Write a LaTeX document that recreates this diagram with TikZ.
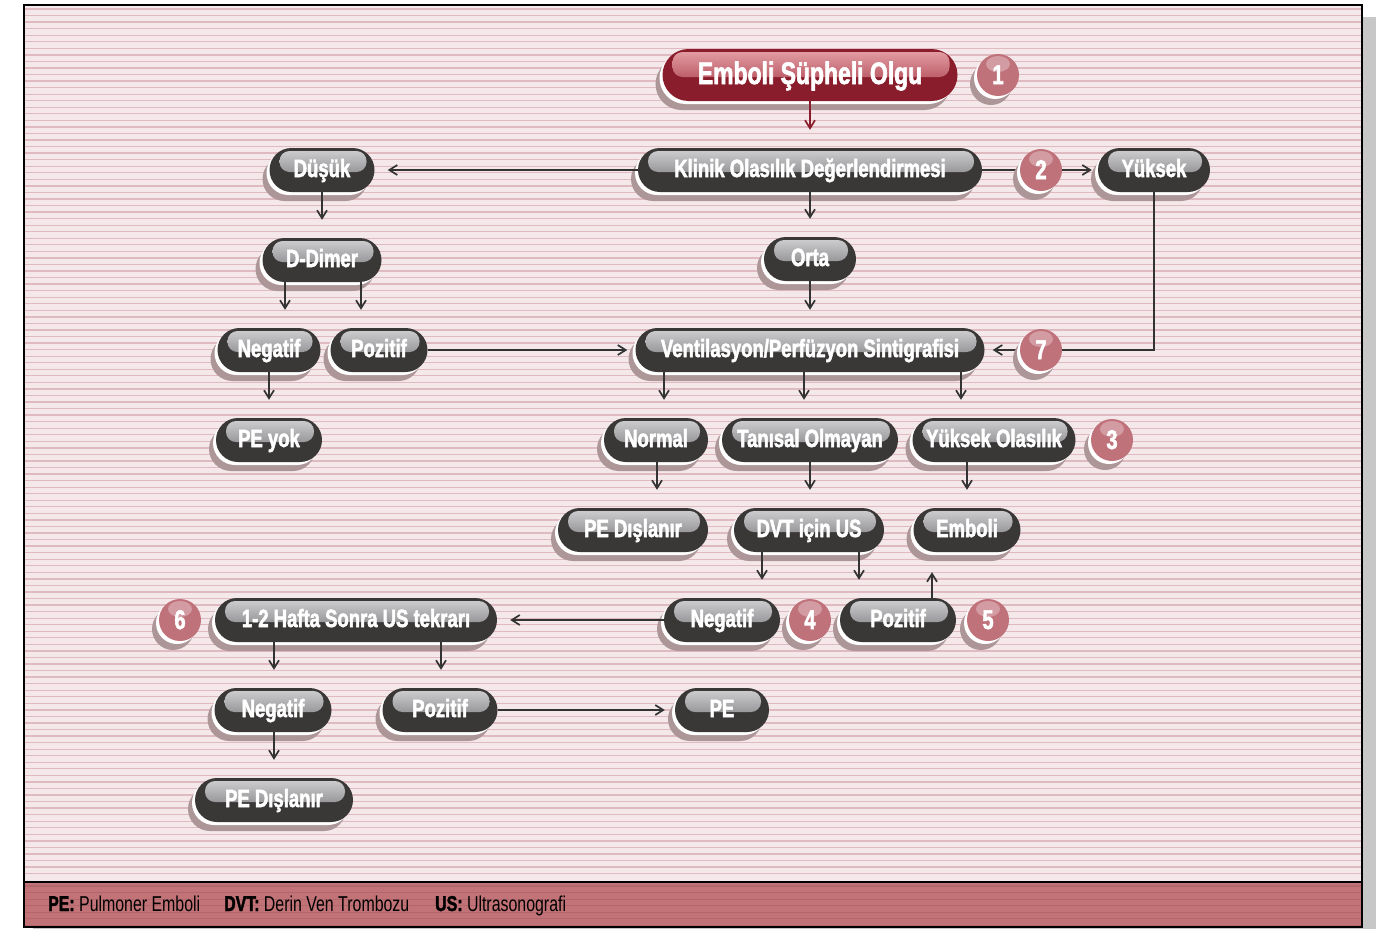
\documentclass[tikz,border=0pt]{standalone}
\usepackage{fontspec}
\setmainfont{Liberation Sans}[FakeStretch=0.74, BoldFeatures={FakeBold=2}]
\usetikzlibrary{arrows.meta,shadows,calc}
\definecolor{bgc}{HTML}{F4E8EB}
\definecolor{stripec}{HTML}{E0BAC1}
\definecolor{footc}{HTML}{C27377}
\definecolor{footstripe}{HTML}{B4676B}
\definecolor{pillc}{HTML}{3A3737}
\definecolor{glT}{HTML}{D2D2D4}
\definecolor{glB}{HTML}{68686A}
\definecolor{redc}{HTML}{8A1D2B}
\definecolor{rglT}{HTML}{E6A2A8}
\definecolor{rglB}{HTML}{9A2636}
\definecolor{shadc}{HTML}{AD9698}
\definecolor{circc}{HTML}{C0727B}
\definecolor{arrc}{HTML}{333333}
\newcommand\pillfont{\fontsize{25bp}{26bp}\selectfont\bfseries}
\newcommand\toppillfont{\fontsize{31bp}{32bp}\selectfont\bfseries}
\newcommand\numfont{\fontsize{27bp}{28bp}\selectfont\bfseries}
\newcommand\legfont{\fontsize{21.5bp}{23bp}\selectfont}
\begin{document}
\begin{tikzpicture}[x=1bp,y=-1bp,
  gloss/.style 2 args={path picture={\fill[top color=#1, bottom color=#2, rounded corners=10bp]
     ([xshift=10bp,yshift=-3bp]path picture bounding box.north west) rectangle
     ([xshift=-8bp,yshift=-2bp]path picture bounding box.east);}},
  pill/.style={rectangle, rounded corners=22bp, minimum height=44bp, inner sep=0pt,
     fill=pillc, text=white, font=\pillfont, text height=18bp, text depth=4bp,
     general shadow={fill=shadc, shadow xshift=-7bp, shadow yshift=-9bp},
     general shadow={fill=white, shadow xshift=-3bp, shadow yshift=-3bp},
     gloss={glT}{glB}},
  redpill/.style={pill, rounded corners=26bp, minimum height=52bp, fill=redc,
     font=\toppillfont, text height=22bp, text depth=4bp, gloss={rglT}{rglB}},
  numc/.style={circle, minimum size=42bp, inner sep=0pt, fill=circc, text=white,
     font=\numfont, text height=19bp, text depth=1bp,
     general shadow={fill=shadc, shadow xshift=-7bp, shadow yshift=-9bp},
     general shadow={fill=white, shadow xshift=-3bp, shadow yshift=-3bp},
     path picture={\fill[white, opacity=0.3] ([yshift=-10bp]path picture bounding box.north) ellipse (12bp and 8bp);}},
  arr/.style={draw=arrc, line width=1.7bp, -{Straight Barb[length=8bp,width=10bp]}},
  redarr/.style={arr, draw=redc},
  leg/.style={anchor=base west, inner sep=0pt, font=\legfont, text=black}
]
\useasboundingbox (0,0) rectangle (1378,929);
% page shadow and background
\fill[black!22] (1362,17) rectangle (1376,929);
\fill[black!22] (33,927) rectangle (1376,929);
\fill[bgc] (24,5) rectangle (1362,927);
\foreach \i in {0,...,132} { \draw[stripec, line width=1.3bp] (24,{9+\i*6.55}) -- (1362,{9+\i*6.55}); }
\fill[footc] (24,882) rectangle (1362,926);
\foreach \i in {0,...,6} { \draw[footstripe, line width=1.2bp] (24,{886+\i*6.55}) -- (1362,{886+\i*6.55}); }
\draw[line width=1.5bp] (24,5) rectangle (1362,927);
\draw[line width=1.5bp] (24,882) -- (1362,882);
% legend
\node[leg] (lg1) at (48,911) {\textbf{PE:} Pulmoner Emboli};
\node[leg] (lg2) at (224,911) {\textbf{DVT:} Derin Ven Trombozu};
\node[leg] (lg3) at (435,911) {\textbf{US:} Ultrasonografi};
% nodes
\node[redpill, minimum width=295bp] (top) at (810,75) {Emboli Şüpheli Olgu};
\node[pill, minimum width=344bp] (klinik) at (810,170) {Klinik Olasılık Değerlendirmesi};
\node[pill, minimum width=105bp] (dusuk) at (322,170) {Düşük};
\node[pill, minimum width=112bp] (yuksek) at (1154,170) {Yüksek};
\node[pill, minimum width=119bp] (ddimer) at (322,260) {D-Dimer};
\node[pill, minimum width=92bp] (orta) at (810,259) {Orta};
\node[pill, minimum width=103bp] (negA) at (269,350) {Negatif};
\node[pill, minimum width=97bp] (pozA) at (379,350) {Pozitif};
\node[pill, minimum width=349bp] (vent) at (810,350) {Ventilasyon/Perfüzyon Sintigrafisi};
\node[pill, minimum width=106bp] (peyok) at (269,440) {PE yok};
\node[pill, minimum width=104bp] (normal) at (656,440) {Normal};
\node[pill, minimum width=176bp] (tanisal) at (810,440) {Tanısal Olmayan};
\node[pill, minimum width=163bp] (yukol) at (994,440) {Yüksek Olasılık};
\node[pill, minimum width=150bp] (pedis1) at (633,530) {PE Dışlanır};
\node[pill, minimum width=150bp] (dvt) at (809,530) {DVT için US};
\node[pill, minimum width=107bp] (emboli) at (967,530) {Emboli};
\node[pill, minimum width=116bp] (negB) at (722,620) {Negatif};
\node[pill, minimum width=116bp] (pozB) at (898,620) {Pozitif};
\node[pill, minimum width=282bp] (hafta) at (356,620) {1-2 Hafta Sonra US tekrarı};
\node[pill, minimum width=117bp] (negC) at (273,710) {Negatif};
\node[pill, minimum width=115bp] (pozC) at (440,710) {Pozitif};
\node[pill, minimum width=94bp] (pe) at (722,710) {PE};
\node[pill, minimum width=158bp] (pedis2) at (274,800) {PE Dışlanır};
% connectors
\draw[redarr, shorten >=18bp] (top.south) -- (klinik.north);
\draw[arr, shorten >=13bp] (klinik.west) -- (dusuk.east);
\draw[arr, shorten >=6bp] (klinik.east) -- (yuksek.west);
\draw[arr, shorten >=18bp] (klinik.south) -- (orta.north);
\draw[arr, shorten >=18bp] (orta.south) -- (vent.north);
\draw[arr, shorten >=18bp] (dusuk.south) -- (ddimer.north);
\draw[arr, shorten >=18bp] ([xshift=-37bp]ddimer.south) -- ([xshift=-37bp]ddimer.south |- negA.north);
\draw[arr, shorten >=18bp] ([xshift=39bp]ddimer.south) -- ([xshift=39bp]ddimer.south |- pozA.north);
\draw[arr, shorten >=18bp] (negA.south) -- (peyok.north);
\draw[arr, shorten >=8bp] (pozA.east) -- (vent.west);
\draw[arr, shorten >=8bp] (yuksek.south) |- (vent.east);
\draw[arr, shorten >=18bp] ([xshift=-146bp]vent.south) -- ([xshift=-146bp]vent.south |- normal.north);
\draw[arr, shorten >=18bp] ([xshift=-6bp]vent.south) -- ([xshift=-6bp]vent.south |- tanisal.north);
\draw[arr, shorten >=18bp] ([xshift=151bp]vent.south) -- ([xshift=151bp]vent.south |- yukol.north);
\draw[arr, shorten >=18bp] ([xshift=1bp]normal.south) -- ([xshift=1bp]normal.south |- pedis1.north);
\draw[arr, shorten >=18bp] (tanisal.south) -- (tanisal.south |- dvt.north);
\draw[arr, shorten >=18bp] ([xshift=-27bp]yukol.south) -- ([xshift=-27bp]yukol.south |- emboli.north);
\draw[arr, shorten >=18bp] ([xshift=-47bp]dvt.south) -- ([xshift=-47bp]dvt.south |- negB.north);
\draw[arr, shorten >=18bp] ([xshift=50bp]dvt.south) -- ([xshift=50bp]dvt.south |- pozB.north);
\draw[arr, shorten >=20bp] ([xshift=34bp]pozB.north) -- ([xshift=34bp]pozB.north |- emboli.south);
\draw[arr, shorten >=13bp] (negB.west) -- (hafta.east);
\draw[arr, shorten >=18bp] ([xshift=-82bp]hafta.south) -- ([xshift=-82bp]hafta.south |- negC.north);
\draw[arr, shorten >=18bp] ([xshift=85bp]hafta.south) -- ([xshift=85bp]hafta.south |- pozC.north);
\draw[arr, shorten >=10bp] (pozC.east) -- (pe.west);
\draw[arr, shorten >=18bp] ([xshift=1bp]negC.south) -- ([xshift=1bp]negC.south |- pedis2.north);
% numbered circles
\node[numc] (n1) at (998,75) {1};
\node[numc] (n2) at (1041,170) {2};
\node[numc] (n7) at (1041,350) {7};
\node[numc] (n3) at (1112,440) {3};
\node[numc] (n4) at (810,620) {4};
\node[numc] (n5) at (988,620) {5};
\node[numc] (n6) at (180,620) {6};
\end{tikzpicture}
\end{document}
